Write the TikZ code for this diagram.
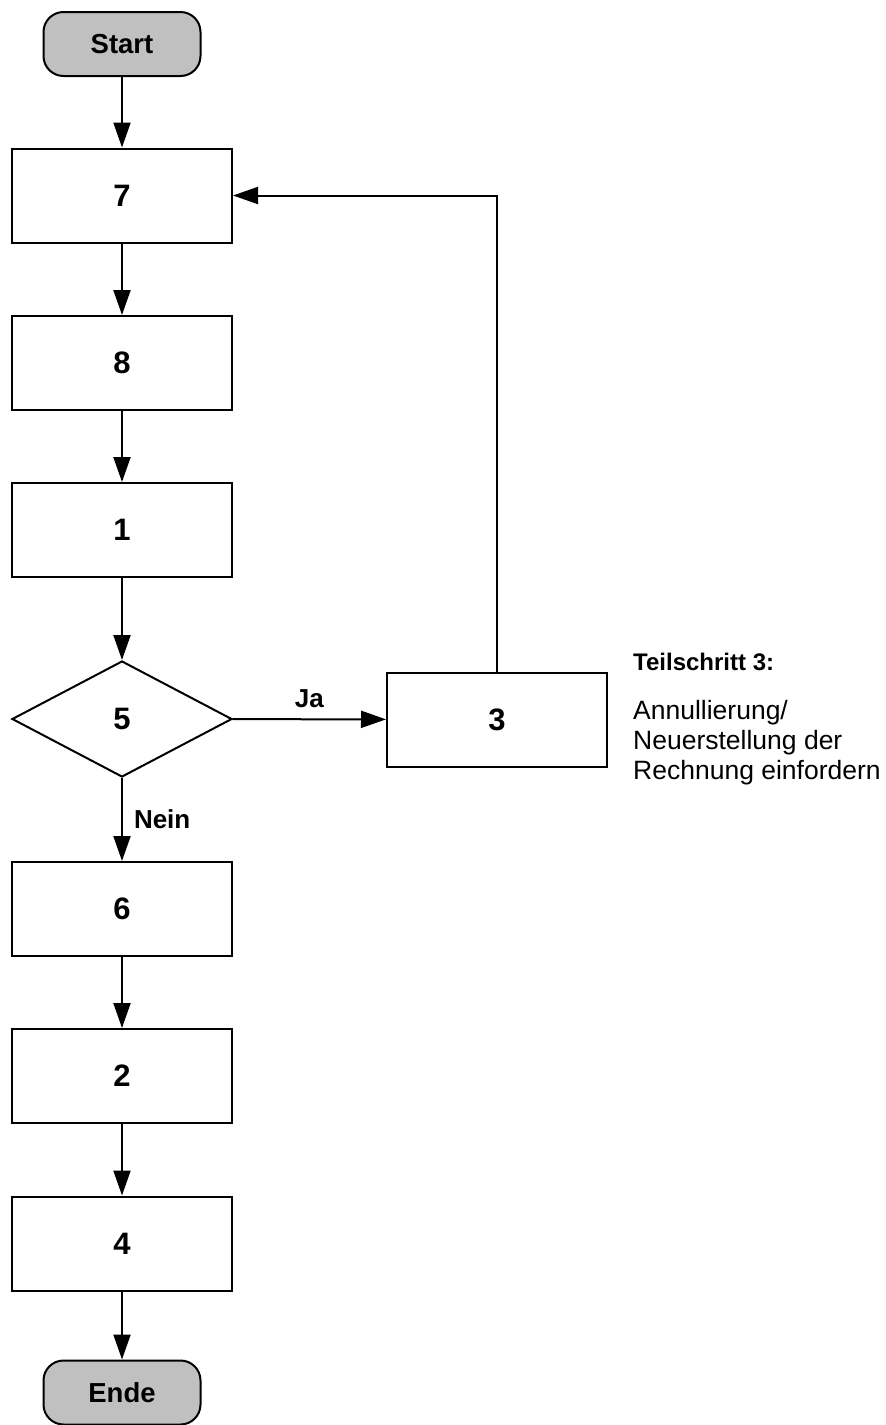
\documentclass[tikz,border=0pt]{standalone}
\usepackage{fontspec}
\setmainfont{Liberation Sans}
\usetikzlibrary{shapes.geometric,arrows.meta}
\definecolor{termgray}{HTML}{C0C0C0}
\begin{document}
\begin{tikzpicture}[x=1pt,y=-1pt,
  proc/.style={draw, line width=2pt, minimum width=220pt, minimum height=94pt, inner sep=0pt, font=\fontsize{31}{34}\selectfont\bfseries},
  term/.style={draw, line width=2pt, rounded corners=20pt, fill=termgray, minimum width=157pt, minimum height=64pt, inner sep=0pt, font=\fontsize{27.5}{30}\selectfont\bfseries},
  dec/.style={draw, diamond, line width=2pt, minimum width=220pt, minimum height=116pt, inner sep=0pt, font=\fontsize{31}{34}\selectfont\bfseries},
  arr/.style={line width=2pt, -{Triangle[length=25pt,width=17pt]}},
  lbl/.style={font=\fontsize{26}{28}\selectfont\bfseries, inner sep=0pt},
  note/.style={font=\fontsize{26.5}{30}\selectfont, inner sep=0pt, anchor=base west}
]
\useasboundingbox (0,0) rectangle (886,1425);
\node[term] (start) at (122,44) {Start};
\node[proc] (b7) at (122,195.5) {7};
\node[proc] (b8) at (122,363) {8};
\node[proc] (b1) at (122,530) {1};
\node[dec] (d5) at (122,719) {5};
\node[proc] (b3) at (497,719.5) {3};
\node[proc] (b6) at (122,909) {6};
\node[proc] (b2) at (122,1076) {2};
\node[proc] (b4) at (122,1243.5) {4};
\node[term] (ende) at (122,1392.5) {Ende};

\draw[arr] (start) -- (b7);
\draw[arr] (b7) -- (b8);
\draw[arr] (b8) -- (b1);
\draw[arr] (b1) -- (d5);
\draw[arr] (d5) -- node[lbl, above=11pt] {Ja} (b3);
\draw[arr] (d5) -- node[lbl, right=11pt] {Nein} (b6);
\draw[arr] (b6) -- (b2);
\draw[arr] (b2) -- (b4);
\draw[arr] (b4) -- (ende);
\draw[arr] (b3.north) |- (b7.east);

\node[note, font=\fontsize{24}{26}\selectfont\bfseries] (ts) at (633,670) {Teilschritt 3:};
\node[note] (t1) at (633,719) {Annullierung/};
\node[note] (t2) at (633,749) {Neuerstellung der};
\node[note] (t3) at (633,779) {Rechnung einfordern};
\end{tikzpicture}
\end{document}
